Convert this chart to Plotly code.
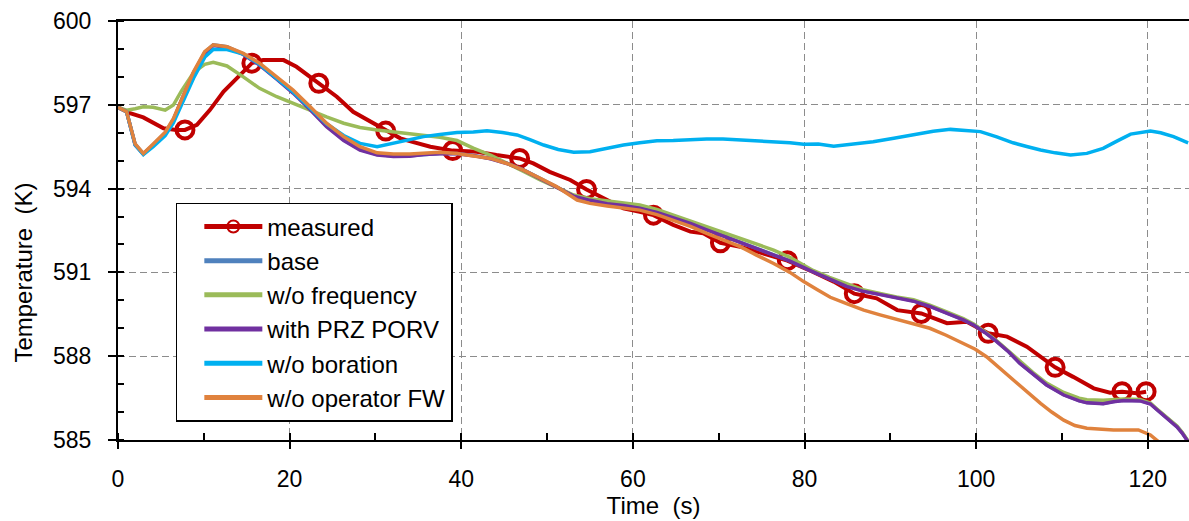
import plotly.graph_objects as go

# ---------------- data ----------------
meas_t = [0, 1.4, 2.95, 4.1, 5.3, 6.8, 7.8, 9.2, 10.7, 12.3, 13.8, 15.6, 16.9, 19.3, 20.8, 22.4,
          23.4, 25.5, 27.4, 29.4, 31.2, 32.9, 34.0, 36.4, 39.0, 41.8, 44.1, 46.8, 48.4, 50.3,
          52.7, 54.6, 57.0, 58.9, 60.8, 62.4, 64.7, 66.7, 68.2, 70.2, 72.5, 74.4, 76.4, 78.0,
          81.0, 83.4, 85.8, 88.4, 90.8, 93.6, 96.6, 98.9, 101.4, 103.6, 105.9, 107.5, 109.2,
          111.3, 113.7, 115.6, 117.0, 118.7, 119.8]
meas_T = [596.91, 596.70, 596.55, 596.34, 596.16, 596.10, 596.10, 596.28, 596.81, 597.47, 597.95,
          598.49, 598.60, 598.60, 598.36, 598.00, 597.77, 597.29, 596.75, 596.40, 596.06, 595.80,
          595.70, 595.50, 595.36, 595.32, 595.20, 595.08, 594.90, 594.60, 594.31, 593.97, 593.59,
          593.29, 593.17, 593.05, 592.70, 592.46, 592.40, 592.06, 591.92, 591.74, 591.56, 591.42,
          591.02, 590.67, 590.24, 590.07, 589.65, 589.53, 589.18, 589.23, 588.82, 588.70, 588.34,
          587.98, 587.60, 587.26, 586.85, 586.69, 586.73, 586.67, 586.73]
meas_marker_t = [7.8, 15.6, 23.4, 31.2, 39.0, 46.8, 54.6, 62.4, 70.2, 78.0, 85.8, 93.6,
                 101.4, 109.2, 117.0, 119.8]

sim_t = [0, 1.0, 2.0, 2.95, 4.1, 5.5, 6.45, 7.4, 8.8, 10.1, 11.1, 12.7, 14.6, 16.5, 18.5, 20.4,
         22.4, 24.3, 26.3, 28.2, 30.2, 32.1, 34.0, 35.6, 37.5, 39.5, 41.4, 43.4, 45.3, 47.2,
         49.2, 51.1, 53.1, 55.0, 57.0, 58.9, 60.8, 62.8, 64.7, 66.7, 68.6, 70.5, 72.5, 74.4,
         76.4, 78.3, 81.0, 82.9, 84.9, 86.8, 88.8, 90.7, 92.7, 94.6, 96.5, 98.5, 99.7, 101.0,
         102.4, 103.8, 105.1, 106.6, 108.2, 110.2, 112.0, 112.9, 114.8, 116.0, 117.2, 119.1,
         120.3, 121.0, 121.8, 122.6, 123.4, 124.0, 124.6, 125.0]

base_T = [596.91, 596.75, 595.58, 595.25, 595.57, 596.00, 596.47, 597.18, 598.15, 598.88, 599.15,
          599.08, 598.82, 598.44, 597.94, 597.45, 596.85, 596.25, 595.75, 595.40, 595.22, 595.17,
          595.18, 595.23, 595.26, 595.26, 595.19, 595.08, 594.91, 594.68, 594.36, 594.06, 593.74,
          593.59, 593.47, 593.41, 593.31, 593.16, 592.98, 592.76, 592.53, 592.31, 592.11, 591.86,
          591.63, 591.41, 591.03, 590.76, 590.51, 590.34, 590.21, 590.09, 589.98, 589.79, 589.56,
          589.31, 589.13, 588.86, 588.53, 588.16, 587.75, 587.36, 586.98, 586.62, 586.41, 586.34,
          586.31, 586.38, 586.42, 586.41, 586.30, 586.11, 585.90, 585.73, 585.48, 585.26, 585.01,
          584.81]
wofreq_T = [596.91, 596.81, 596.86, 596.93, 596.91, 596.81, 596.99, 597.50, 598.15, 598.45, 598.52,
            598.39, 598.00, 597.59, 597.29, 597.05, 596.81, 596.57, 596.34, 596.19, 596.10, 596.04,
            595.97, 595.92, 595.84, 595.72, 595.45, 595.20, 594.92, 594.62, 594.31, 594.03, 593.77,
            593.64, 593.56, 593.49, 593.41, 593.25, 593.05, 592.85, 592.64, 592.43, 592.22, 592.03,
            591.80, 591.54, 591.07, 590.82, 590.58, 590.38, 590.25, 590.12, 590.02, 589.83, 589.60,
            589.35, 589.15, 588.88, 588.55, 588.18, 587.80, 587.42, 587.04, 586.70, 586.50, 586.44,
            586.42, 586.45, 586.47, 586.45, 586.32, 586.13, 585.92, 585.74, 585.50, 585.28, 585.02,
            584.82]
porv_T = [596.91, 596.75, 595.56, 595.24, 595.56, 595.98, 596.45, 597.17, 598.13, 598.84, 599.12,
          599.06, 598.80, 598.42, 597.92, 597.42, 596.82, 596.22, 595.72, 595.38, 595.20, 595.15,
          595.16, 595.22, 595.25, 595.25, 595.18, 595.07, 594.90, 594.67, 594.35, 594.05, 593.73,
          593.58, 593.46, 593.40, 593.30, 593.15, 592.97, 592.75, 592.52, 592.30, 592.10, 591.85,
          591.62, 591.40, 591.02, 590.75, 590.50, 590.33, 590.20, 590.08, 589.97, 589.78, 589.55,
          589.30, 589.12, 588.85, 588.52, 588.15, 587.74, 587.35, 586.97, 586.61, 586.40, 586.33,
          586.30, 586.37, 586.41, 586.40, 586.29, 586.10, 585.89, 585.72, 585.47, 585.25, 585.00,
          584.80]

bor_t = [0, 1.0, 2.0, 2.95, 4.1, 5.5, 6.45, 7.4, 8.8, 10.1, 11.1, 12.7, 14.6, 16.5, 18.5, 20.4,
         22.4, 24.3, 26.3, 28.2, 30.2, 31.7, 33.6, 35.6, 37.5, 39.5, 41.4, 43.0, 44.8, 46.5, 48.0,
         49.6, 51.3, 53.1, 55.0, 57.0, 58.9, 60.8, 62.8, 64.7, 66.7, 68.6, 70.5, 72.5, 74.4, 76.4,
         78.3, 79.9, 81.6, 83.4, 85.7, 88.0, 90.4, 92.7, 95.0, 97.0, 98.8, 100.5, 102.4, 104.3,
         106.0, 107.5, 109.2, 111.0, 112.9, 114.8, 116.4, 118.0, 120.3, 121.5, 123.0, 124.7]
bor_T = [596.91, 596.75, 595.56, 595.22, 595.50, 595.90, 596.35, 597.00, 597.95, 598.70, 598.98,
         598.98, 598.82, 598.45, 597.96, 597.46, 596.88, 596.32, 595.90, 595.62, 595.50, 595.60,
         595.75, 595.86, 595.94, 596.01, 596.03, 596.07, 596.01, 595.92, 595.75, 595.56, 595.40,
         595.30, 595.32, 595.45, 595.56, 595.64, 595.71, 595.72, 595.76, 595.78, 595.78, 595.75,
         595.71, 595.68, 595.64, 595.59, 595.60, 595.52, 595.60, 595.68, 595.80, 595.94, 596.05,
         596.12, 596.08, 596.04, 595.85, 595.64, 595.50, 595.38, 595.28, 595.20, 595.26, 595.44,
         595.70, 595.95, 596.06, 596.00, 595.86, 595.64]

fw_t = [0, 1.0, 2.0, 2.95, 4.1, 5.5, 6.45, 7.4, 8.8, 10.1, 11.1, 12.7, 14.6, 16.5, 18.5, 20.4,
        22.4, 24.3, 26.3, 28.2, 30.2, 32.1, 34.0, 35.6, 37.5, 39.5, 41.4, 43.4, 45.3, 47.2, 49.2,
        51.1, 53.5, 55.0, 57.0, 58.9, 60.8, 62.8, 64.7, 66.7, 68.6, 70.5, 72.5, 74.4, 76.4, 78.3,
        79.9, 81.5, 83.0, 84.9, 86.9, 88.8, 90.8, 92.7, 94.6, 96.5, 98.5, 99.9, 101.2, 102.7,
        104.3, 105.9, 107.5, 108.8, 110.2, 111.5, 112.9, 116.0, 118.9, 120.3, 121.1, 121.8, 122.5]
fw_T = [596.91, 596.75, 595.60, 595.26, 595.60, 596.02, 596.50, 597.20, 598.18, 598.90, 599.15,
        599.08, 598.84, 598.49, 598.00, 597.53, 596.93, 596.34, 595.86, 595.50, 595.28, 595.24,
        595.24, 595.28, 595.30, 595.26, 595.18, 595.08, 594.90, 594.67, 594.37, 594.07, 593.59,
        593.47, 593.38, 593.31, 593.23, 593.07, 592.88, 592.65, 592.40, 592.16, 591.92, 591.62,
        591.32, 591.00, 590.67, 590.38, 590.11, 589.88, 589.65, 589.48, 589.32, 589.17, 589.00,
        588.75, 588.46, 588.25, 587.98, 587.58, 587.15, 586.72, 586.31, 586.00, 585.71, 585.52,
        585.42, 585.36, 585.36, 585.18, 585.00, 584.80, 584.60]

x_ticks = [0, 20, 40, 60, 80, 100, 120]
y_ticks = [585, 588, 591, 594, 597, 600]

FONT = "Arial, 'Liberation Sans', sans-serif"
FS = 23

fig = go.Figure()

meas_sizes = [17 if t in meas_marker_t else 0 for t in meas_t]
fig.add_trace(go.Scatter(
    x=meas_t, y=meas_T, name="measured", mode="lines+markers",
    line=dict(color="#C00000", width=4),
    marker=dict(symbol="circle", size=meas_sizes, color="rgba(0,0,0,0)", opacity=1,
                line=dict(color="#C00000", width=4)),
))
fig.add_trace(go.Scatter(x=sim_t, y=base_T, name="base", mode="lines",
                         line=dict(color="#4F81BD", width=3.5)))
fig.add_trace(go.Scatter(x=sim_t, y=wofreq_T, name="w/o frequency", mode="lines",
                         line=dict(color="#9BBB59", width=3.5)))
fig.add_trace(go.Scatter(x=sim_t, y=porv_T, name="with PRZ PORV", mode="lines",
                         line=dict(color="#7030A0", width=3.5)))
fig.add_trace(go.Scatter(x=bor_t, y=bor_T, name="w/o boration", mode="lines",
                         line=dict(color="#00B0F0", width=3.5)))
fig.add_trace(go.Scatter(x=fw_t, y=fw_T, name="w/o operator FW", mode="lines",
                         line=dict(color="#E0823D", width=3.5)))

fig.update_layout(
    width=1189, height=521,
    margin=dict(l=118, r=0, t=21, b=81),
    paper_bgcolor="white", plot_bgcolor="white",
    font=dict(family=FONT, size=FS, color="black"),
    showlegend=True,
    legend=dict(
        x=0.054, y=0.566, xanchor="left", yanchor="top",
        bgcolor="white", bordercolor="black", borderwidth=1.5,
        font=dict(family=FONT, size=24, color="black"),
        itemsizing="constant", itemwidth=58, tracegroupgap=0,
        traceorder="normal", indentation=22,
    ),
)

fig.update_xaxes(
    range=[0, 124.8], tickvals=x_ticks, ticktext=[str(v) for v in x_ticks],
    showline=True, linecolor="black", linewidth=2, mirror=True,
    ticks="outside", ticklen=7, tickwidth=1.5, tickcolor="black",
    showgrid=True, gridcolor="#8c8c8c", gridwidth=1.3, griddash="7px,4px",
    zeroline=False,
    minor=dict(dtick=10, tick0=0, ticks="inside", ticklen=7, tickwidth=1.5,
               tickcolor="black", showgrid=False),
    tickfont=dict(family=FONT, size=FS, color="black"),
    title=dict(text="Time  (s)", font=dict(family=FONT, size=24, color="black"), standoff=0),
    ticklabelstandoff=10,
)
fig.update_yaxes(
    range=[585, 600], tickvals=y_ticks, ticktext=[str(v) for v in y_ticks],
    showline=True, linecolor="black", linewidth=2, mirror=False,
    ticks="outside", ticklen=8, tickwidth=1.5, tickcolor="black",
    showgrid=True, gridcolor="#8c8c8c", gridwidth=1.3, griddash="7px,4px",
    zeroline=False,
    minor=dict(dtick=1, tick0=585, ticks="inside", ticklen=6, tickwidth=1.5,
               tickcolor="black", showgrid=False),
    tickfont=dict(family=FONT, size=FS, color="black"),
    ticklabelstandoff=12,
)

fig.add_annotation(
    text="Temperature  (K)", textangle=-90, xref="paper", yref="paper",
    x=-0.0885, y=0.40, xanchor="center", yanchor="middle", showarrow=False,
    font=dict(family=FONT, size=24, color="black"),
)

fig.write_html("out.html")
